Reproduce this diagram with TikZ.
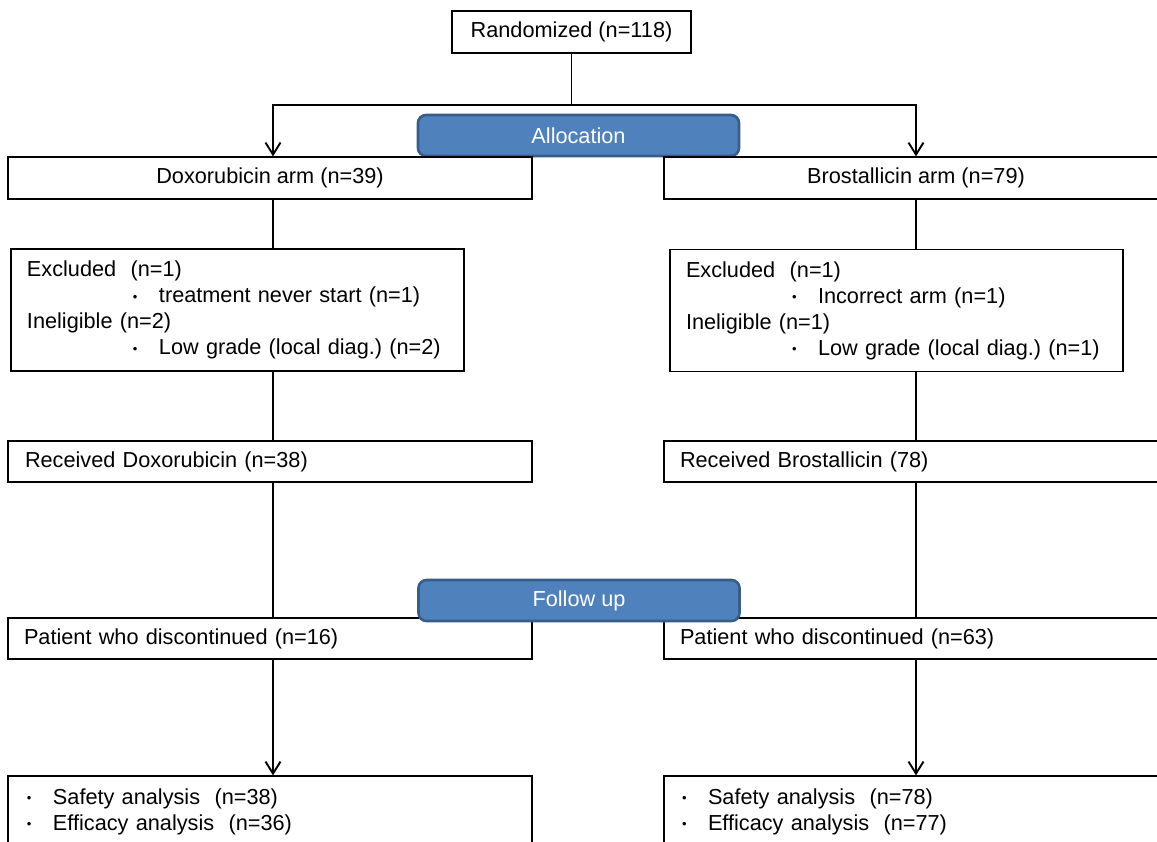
\documentclass[tikz,border=0pt]{standalone}
\usepackage{fontspec}
\setmainfont{Liberation Sans}
\usetikzlibrary{arrows.meta}

\definecolor{phasefill}{HTML}{4F81BD}
\definecolor{phaseedge}{HTML}{385D8A}
\newcommand{\bul}{\makebox[26pt][l]{\raisebox{1.5pt}{\fontsize{13}{13}\selectfont\textbullet}}}
\frenchspacing

\begin{document}
\begin{tikzpicture}[x=1pt, y=-1pt,
    font=\fontsize{21.7}{26}\selectfont,
    box/.style={draw=black, line width=1.3pt, fill=white, inner sep=0pt, minimum height=42pt},
    leftbox/.style={box, align=left, inner xsep=#1},
    phasebox/.style={draw=phaseedge, fill=phasefill, line width=2.6pt, rounded corners=8pt,
        text=white, minimum width=321pt, minimum height=41pt},
    link/.style={line width=1.9pt},
    linkarrow/.style={link, -{Straight Barb[length=12pt, width=15pt]}}]
    % 画布
    \fill[white] (0,0) rectangle (1157,841);
    \useasboundingbox (0,0) rectangle (1157,841);
    \clip (0,0) rectangle (1157,841);

    % 随机分组
    \node[box, minimum width=239pt] (rand) at (571.5,32) {Randomized (n=118)};
    \node[phasebox] (alloc) at (578.5,135.5) {Allocation};

    % 两组
    \node[box, minimum width=524pt] (doxarm) at (270,178) {Doxorubicin arm (n=39)};
    \node[box, minimum width=504pt] (broarm) at (916,178) {Brostallicin arm (n=79)};

    % 排除
    \node[leftbox=16pt, text width=421pt, minimum height=122pt] (exclL) at (237.5,310) {%
        Excluded\ \ (n=1)\\
        \hspace*{106pt}\bul treatment never start (n=1)\\
        Ineligible (n=2)\\
        \hspace*{106pt}\bul Low grade (local diag.) (n=2)};
    \node[leftbox=16pt, text width=421pt, minimum height=122pt] (exclR) at (896.5,310.5) {%
        Excluded\ \ (n=1)\\
        \hspace*{106pt}\bul Incorrect arm (n=1)\\
        Ineligible (n=1)\\
        \hspace*{106pt}\bul Low grade (local diag.) (n=1)};

    % 接受治疗
    \node[leftbox=17pt, text width=490pt, minimum height=41pt] (recvL) at (270,461.5) {Received Doxorubicin (n=38)};
    \node[leftbox=16pt, text width=472pt, minimum height=41pt] (recvR) at (916,461.5) {Received Brostallicin (78)};

    % 随访
    \node[leftbox=16pt, text width=492pt, minimum height=41pt] (patL) at (270,638.5) {Patient who discontinued (n=16)};
    \node[leftbox=16pt, text width=472pt, minimum height=41pt] (patR) at (916,638.5) {Patient who discontinued (n=63)};
    \node[phasebox] (follow) at (579,600.5) {Follow up};

    % 分析
    \node[leftbox=19pt, text width=486pt, minimum height=71pt] (finL) at (270,811.5) {%
        \bul Safety analysis\ \ (n=38)\\
        \bul Efficacy analysis\ \ (n=36)};
    \node[leftbox=18pt, text width=468pt, minimum height=71pt] (finR) at (916,811.5) {%
        \bul Safety analysis\ \ (n=78)\\
        \bul Efficacy analysis\ \ (n=77)};

    % 连线
    \coordinate (split) at (571.5,105);
    \coordinate (colL) at (273,0);
    \coordinate (colR) at (916,0);
    \draw[link] (rand.south) -- (split);
    \draw[linkarrow] (split) -| (colL |- doxarm.north);
    \draw[linkarrow] (split) -| (colR |- broarm.north);
    \draw[link] (colL |- doxarm.south) -- (colL |- exclL.north);
    \draw[link] (colR |- broarm.south) -- (colR |- exclR.north);
    \draw[link] (colL |- exclL.south) -- (colL |- recvL.north);
    \draw[link] (colR |- exclR.south) -- (colR |- recvR.north);
    \draw[link] (colL |- recvL.south) -- (colL |- patL.north);
    \draw[link] (colR |- recvR.south) -- (colR |- patR.north);
    \draw[linkarrow] (colL |- patL.south) -- (colL |- finL.north);
    \draw[linkarrow] (colR |- patR.south) -- (colR |- finR.north);
\end{tikzpicture}
\end{document}
